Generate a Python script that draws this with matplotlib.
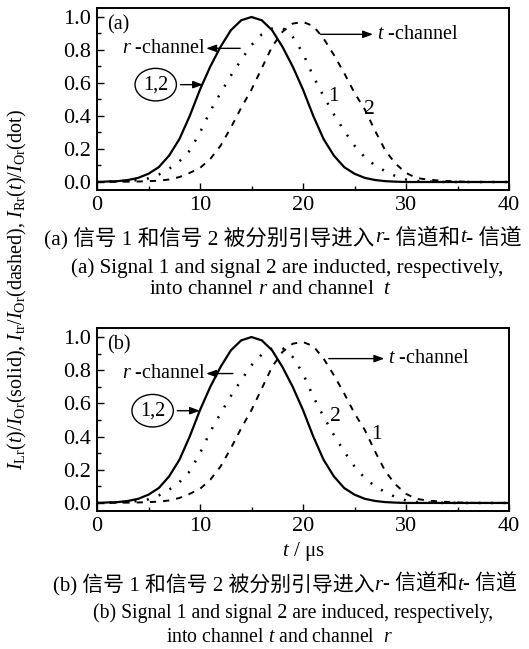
import numpy as np
import matplotlib.pyplot as plt
from matplotlib.ticker import MultipleLocator

plt.rcParams['font.family'] = ['Liberation Serif', 'Noto Sans CJK SC']
plt.rcParams['mathtext.fontset'] = 'custom'
plt.rcParams['mathtext.rm'] = 'Liberation Serif'
plt.rcParams['mathtext.it'] = 'Liberation Serif:italic'

# values, one sample per microsecond
t = np.arange(0, 41)
solid = [0, 0.003, 0.005, 0.012, 0.025, 0.05, 0.09, 0.16, 0.26, 0.40,
         0.56, 0.70, 0.82, 0.92, 0.98, 1.0, 0.98, 0.92, 0.82, 0.70,
         0.56, 0.40, 0.26, 0.16, 0.09, 0.05, 0.025, 0.012, 0.005, 0.002,
         0, 0, 0, 0, 0, 0, 0, 0, 0, 0, 0]
dotted = [0, 0.002, 0.004, 0.007, 0.012, 0.022, 0.045, 0.08, 0.125, 0.19,
          0.30, 0.43, 0.54, 0.645, 0.74, 0.83, 0.895, 0.93, 0.935, 0.88,
          0.78, 0.64, 0.52, 0.41, 0.31, 0.22, 0.15, 0.10, 0.065, 0.035,
          0.015, 0.006, 0.003, 0.001, 0, 0, 0, 0, 0, 0, 0]
dashed = [0, 0, 0.001, 0.002, 0.003, 0.005, 0.008, 0.015, 0.03, 0.055,
          0.085, 0.14, 0.22, 0.33, 0.45, 0.56, 0.69, 0.82, 0.91, 0.96,
          0.97, 0.945, 0.87, 0.77, 0.66, 0.54, 0.44, 0.31, 0.19, 0.11,
          0.055, 0.025, 0.015, 0.01, 0.006, 0.003, 0.001, 0, 0, 0, 0]

panel_tags = ['(a)', '(b)']
curve_labels = [[('1', 23.0, 0.52), ('2', 26.4, 0.44)],
                [('2', 23.1, 0.52), ('1', 27.1, 0.41)]]
cap_cn = [['(a) 信号 1 和信号 2 被分别引导进入', 'r', '- 信道和', 't', '- 信道'],
          ['(b) 信号 1 和信号 2 被分别引导进入', 'r', '- 信道和', 't', '- 信道']]
cap_en = [['(a) Signal 1 and signal 2 are inducted, respectively,',
           'into channel $r$ and channel  $t$'],
          ['(b) Signal 1 and signal 2 are induced, respectively,',
           'into channel $t$ and channel  $r$']]

W, H = 529, 649
fig = plt.figure(figsize=(W / 100, H / 100), dpi=100)

ax_boxes = [(97, 8, 509, 190), (97, 328, 509, 511)]
axes = []
for (l, tp, r, b) in ax_boxes:
    axes.append(fig.add_axes([l / W, 1 - b / H, (r - l) / W, (b - tp) / H]))

arrow_kw = dict(arrowstyle='-|>,head_length=0.6,head_width=0.22',
                color='black', lw=1.0, mutation_scale=10,
                shrinkA=0, shrinkB=0)

for i, ax in enumerate(axes):
    ax.plot(t, solid, color='black', lw=1.6, ls='-')
    ax.plot(t, dotted, color='black', lw=1.8, ls=(0, (0.8, 4.2)))
    ax.plot(t, dashed, color='black', lw=1.4, ls=(0, (3.2, 3.6)))
    ax.set_xlim(0, 40)
    ax.set_ylim(-0.0485, 1.0545)
    ax.xaxis.set_major_locator(MultipleLocator(10))
    ax.xaxis.set_minor_locator(MultipleLocator(5))
    ax.yaxis.set_major_locator(MultipleLocator(0.2))
    ax.yaxis.set_minor_locator(MultipleLocator(0.1))
    ax.yaxis.set_major_formatter(lambda v, p: f'{v:.1f}')
    ax.tick_params(which='major', direction='in', length=5, width=1.0,
                   labelsize=16, pad=4)
    ax.tick_params(which='minor', direction='in', length=3, width=1.0)
    for s in ax.spines.values():
        s.set_linewidth(1.4)

    ax.text(1.0, 0.95, panel_tags[i], fontsize=14.5, va='center', ha='left')

    # r-channel
    ry = 0.81 if i == 0 else 0.78
    rstart = 13.9 if i == 0 else 13.2
    ax.annotate('', xy=(10.6, ry), xytext=(rstart, ry), arrowprops=arrow_kw)
    ax.text(10.6, ry, '$r$ -channel', fontsize=14.5, va='center', ha='right')

    # t-channel
    ty = 0.895 if i == 0 else 0.87
    ts, te = (21.7, 26.8) if i == 0 else (22.5, 27.9)
    ax.annotate('', xy=(te, ty), xytext=(ts, ty), arrowprops=arrow_kw)
    ax.text(te + 0.4, ty, '$t$ -channel', fontsize=14.5, va='center', ha='left')

    # circled 1,2
    cy = 0.59 if i == 0 else 0.556
    cx = 5.7 if i == 0 else 5.4
    ax.text(cx, cy, '1,2', fontsize=14.5, va='center', ha='center',
            bbox=dict(boxstyle='ellipse,pad=0.1', fc='white', ec='black', lw=1.0))
    ax.annotate('', xy=(cx + 4.6, cy), xytext=(cx + 2.4, cy), arrowprops=arrow_kw)

    for s, x, y in curve_labels[i]:
        ax.text(x, y, s, fontsize=15.5, va='center', ha='center')

axes[1].set_xlabel('$t$ / μs', fontsize=15, labelpad=3)

fig.text(17 / W, 1 - 290 / H,
         r'$I_{\rm Lr}(t)/I_{\rm Or}$(solid), $I_{\rm tr}/I_{\rm Or}$(dashed), '
         r'$I_{\rm Rr}(t)/I_{\rm Or}$(dot)',
         rotation=90, fontsize=14.5, va='center', ha='center')

renderer = fig.canvas.get_renderer()


def rich_line(pieces, xc, yc, size):
    # pieces alternate upright / italic, laid out left to right and centred
    objs = []
    for k, s in enumerate(pieces):
        objs.append(fig.text(0, 0, s, fontsize=size, ha='left', va='center',
                             style='italic' if k % 2 else 'normal',
                             transform=None))
    widths = [o.get_window_extent(renderer).width for o in objs]
    x = xc - sum(widths) / 2
    for o, w in zip(objs, widths):
        o.set_position((x, H - yc))
        x += w


rich_line(cap_cn[0], 283, 238, 15.5)
rich_line(cap_cn[1], 285, 585, 15)
en_pos = [(268, 289, 287, 270, 15.2), (613, 637, 293, 279, 14.2)]
for j, (y1, y2, x1, x2, fs) in enumerate(en_pos):
    fig.text(x1 / W, 1 - y1 / H, cap_en[j][0], fontsize=fs, ha='center', va='center')
    fig.text(x2 / W, 1 - y2 / H, cap_en[j][1], fontsize=fs, ha='center', va='center')

fig.savefig('out.png', dpi=100)
